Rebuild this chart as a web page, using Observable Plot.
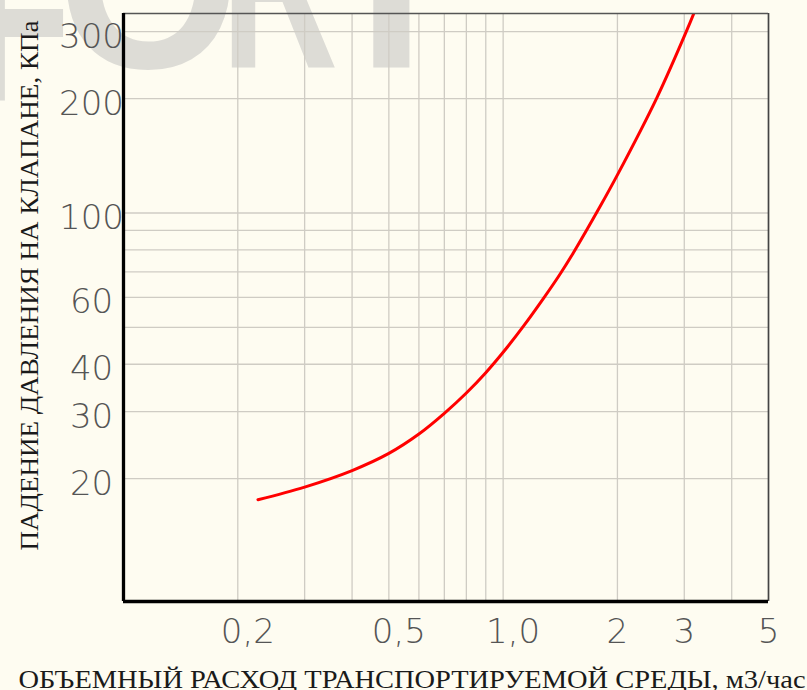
<!DOCTYPE html>
<html><head><meta charset="utf-8">
<script src="https://cdn.jsdelivr.net/npm/d3@7"></script>
<script src="https://cdn.jsdelivr.net/npm/@observablehq/plot@0.6"></script>
<style>
html,body{margin:0;padding:0;background:#fefcf1;}
#wrap{position:relative;width:807px;height:690px;overflow:hidden;background:#fefcf1;}
#wm{position:absolute;left:0;top:0;}
#chart{position:absolute;left:0;top:0;}
</style></head><body>
<div id="wrap"><svg id="wm" width="807" height="690"></svg><div id="chart"></div></div>
<script>
// Data (flow m3/h vs pressure drop kPa)
const flow = [0.226, 0.30, 0.40, 0.50, 0.60, 0.70, 0.80, 0.90, 1.00, 1.13, 1.28, 1.41, 1.53, 1.80, 2.00, 2.54, 3.04, 3.19];
const dp   = [17.6, 19.0, 21.0, 23.3, 26.2, 29.7, 33.6, 38.0, 43.0, 50.3, 59.8, 68.9, 78.5, 104, 126, 201, 301, 338];

const xGrid = [0.2, 0.3, 0.4, 0.5, 0.6, 0.7, 0.8, 0.9, 1, 2, 3, 4];
const yGrid = [20, 30, 40, 50, 60, 70, 80, 90, 100, 200, 300];
const xTicksComma = [0.2, 0.5, 1];
const xLabelsComma = ["0,2", "0,5", "1,0"];
const xTicksInt = [2, 3, 5];
const xLabelsInt = ["2", "3", "5"];
const yTicks = [20, 30, 40, 60, 100, 200, 300];
const yLabels = ["20", "30", "40", "60", "100", "200", "300"];
const xTitle = "ОБЪЕМНЫЙ РАСХОД ТРАНСПОРТИРУЕМОЙ СРЕДЫ, м3/час";
const yTitle = "ПАДЕНИЕ ДАВЛЕНИЯ НА КЛАПАНЕ, КПа";
const watermark = ["F", "O", "R", "T"];

const xDomain = [0.1, 5];
const yDomain = [9.5, 335];
const data = flow.map((x, i) => ({x, y: dp[i]}));

const tickFont = "'DejaVu Sans', sans-serif";
const titleFont = "'Liberation Serif', 'Times New Roman', serif";
const tickStyle = {tickSize: 0, fontSize: 34, fontFamily: tickFont, fontWeight: 200, fill: "#555", label: null};

const plot = Plot.plot({
  width: 807, height: 690,
  marginLeft: 123, marginRight: 39, marginTop: 13, marginBottom: 89,
  style: {background: "transparent", overflow: "visible"},
  x: {type: "log", domain: xDomain, axis: null},
  y: {type: "log", domain: yDomain, axis: null},
  marks: [
    Plot.gridX(xGrid, {stroke: "#cfccc4", strokeOpacity: 1, strokeWidth: 1.3}),
    Plot.gridY(yGrid, {stroke: "#cfccc4", strokeOpacity: 1, strokeWidth: 1.3}),
    Plot.axisX(xTicksComma, {...tickStyle, tickPadding: 17, dx: 10,
      tickFormat: d => xLabelsComma[xTicksComma.indexOf(d)]}),
    Plot.axisX(xTicksInt, {...tickStyle, tickPadding: 17,
      tickFormat: d => xLabelsInt[xTicksInt.indexOf(d)]}),
    Plot.axisY(yTicks, {...tickStyle, tickPadding: 32, textAnchor: "middle", dy: 5,
      tickFormat: d => yLabels[yTicks.indexOf(d)]}),
    Plot.line(data, {x: "x", y: "y", stroke: "#ff0000", strokeWidth: 3, curve: "catmull-rom", clip: true}),
    Plot.ruleX([xDomain[1]], {stroke: "#444", strokeWidth: 1.7}),
    Plot.ruleY([yDomain[1]], {stroke: "#555", strokeWidth: 1.6}),
    Plot.ruleX([xDomain[0]], {stroke: "#000", strokeWidth: 3.3}),
    Plot.ruleY([yDomain[0]], {stroke: "#000", strokeWidth: 3.5}),
    Plot.text([yTitle], {frameAnchor: "left", dx: -94, dy: -22, rotate: -90, textAnchor: "middle", lineAnchor: "middle",
      fontSize: 25, fontFamily: titleFont, fill: "#1a1a1a"}),
    Plot.text([xTitle], {frameAnchor: "bottom", dx: -34, dy: 86, textAnchor: "middle", lineAnchor: "bottom",
      fontSize: 25, fontFamily: titleFont, fill: "#1a1a1a"})
  ]
});
document.getElementById("chart").appendChild(plot);

// stretch titles to the reference's lengths
d3.select(plot).selectAll("text").each(function() {
  const t = this.textContent;
  if (t === xTitle) { this.setAttribute("textLength", 787); this.setAttribute("lengthAdjust", "spacingAndGlyphs"); }
  if (t === yTitle) { this.setAttribute("textLength", 530); this.setAttribute("lengthAdjust", "spacingAndGlyphs"); }
});

// faint watermark behind the chart
const wm = d3.select("#wm");
const wmPos = [
  {x: -30, y: 100, len: 101},
  {x: 57, y: 68, len: 183},
  {x: 221, y: 68, len: 117},
  {x: 315, y: 68, len: null}
];
watermark.forEach((ch, i) => {
  const p = wmPos[i];
  const t = wm.append("text").attr("x", p.x).attr("y", p.y)
    .attr("font-family", "'Liberation Sans', Arial, sans-serif").attr("font-weight", "bold")
    .attr("font-size", 250).attr("fill", "#dddcd6").text(ch);
  if (p.len) t.attr("textLength", p.len).attr("lengthAdjust", "spacingAndGlyphs");
});
</script>
</body></html>
